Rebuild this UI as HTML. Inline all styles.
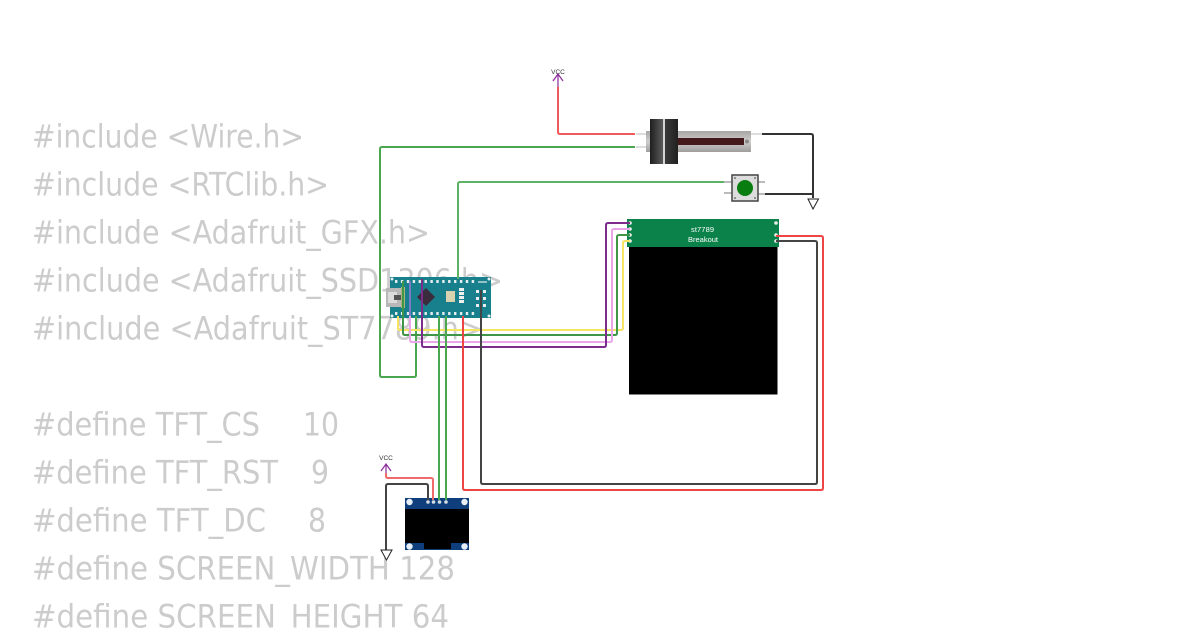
<!DOCTYPE html>
<html><head><meta charset="utf-8"><style>
html,body{margin:0;padding:0;background:#fff}
body{width:1200px;height:630px;overflow:hidden;position:relative}
svg{position:absolute;left:0;top:0}
text{white-space:pre}
.c{font-family:"DejaVu Sans",sans-serif;font-size:32px;fill:#cccccc}
.w{fill:none;stroke-width:2;stroke-linejoin:round}
.t{font-family:"Liberation Sans",sans-serif;fill:#fff}
</style></head><body>
<svg width="1200" height="630" viewBox="0 0 1200 630" xmlns="http://www.w3.org/2000/svg">
<defs>
<linearGradient id="g" x1="0" x2="1" y1="0" y2="0"><stop offset="0" stop-color="#1e1e1e"/><stop offset=".45" stop-color="#5a5a5a"/><stop offset=".55" stop-color="#3a3a3a"/><stop offset="1" stop-color="#202020"/></linearGradient>
<linearGradient id="b" x1="0" x2="0" y1="0" y2="1"><stop offset="0" stop-color="#a8a6a4"/><stop offset=".5" stop-color="#cfcdcb"/><stop offset="1" stop-color="#a09e9c"/></linearGradient>
<pattern id="pins" x="395" y="0" width="5.900" height="4" patternUnits="userSpaceOnUse"><rect x="0" y="0" width="2.400" height="3" fill="#e6eef0"/></pattern>
</defs>
<g class="c">
<text x="32" y="147.500" textLength="272" lengthAdjust="spacingAndGlyphs">#include &lt;Wire.h&gt;</text>
<text x="32" y="195.500" textLength="297" lengthAdjust="spacingAndGlyphs">#include &lt;RTClib.h&gt;</text>
<text x="32" y="243.500" textLength="398" lengthAdjust="spacingAndGlyphs">#include &lt;Adafruit_GFX.h&gt;</text>
<text x="32" y="291.500" textLength="471" lengthAdjust="spacingAndGlyphs">#include &lt;Adafruit_SSD1306.h&gt;</text>
<text x="32" y="339.500" textLength="451" lengthAdjust="spacingAndGlyphs">#include &lt;Adafruit_ST7789.h&gt;</text>
<text x="32" y="435.500" textLength="228" lengthAdjust="spacingAndGlyphs">#define TFT_CS</text><text x="303" y="435.500" textLength="36" lengthAdjust="spacingAndGlyphs">10</text>
<text x="32" y="483.500" textLength="246" lengthAdjust="spacingAndGlyphs">#define TFT_RST</text><text x="311" y="483.500" textLength="18" lengthAdjust="spacingAndGlyphs">9</text>
<text x="32" y="531.500" textLength="234" lengthAdjust="spacingAndGlyphs">#define TFT_DC</text><text x="308" y="531.500" textLength="18" lengthAdjust="spacingAndGlyphs">8</text>
<text x="32" y="579.500" textLength="423" lengthAdjust="spacingAndGlyphs">#define SCREEN_WIDTH 128</text>
<text x="32" y="627.500" textLength="417" lengthAdjust="spacingAndGlyphs">#define SCREEN_HEIGHT 64</text>
</g>

<!-- display -->
<rect x="629" y="245" width="148.500" height="149.500" fill="#000"/>
<rect x="627" y="219" width="152" height="28" fill="#0a8249"/>
<text class="t" x="691" y="232" font-size="7.500" textLength="23">st7789</text>
<text class="t" x="688" y="242" font-size="7.500" textLength="30">Breakout</text>
<g fill="#eee"><circle cx="630" cy="223" r="1.800"/><circle cx="630" cy="229" r="1.800"/><circle cx="630" cy="235" r="1.800"/><circle cx="630" cy="241" r="1.800"/><circle cx="776" cy="223" r="1.800"/><circle cx="776" cy="235" r="1.800"/><circle cx="776" cy="241" r="1.800"/></g>

<!-- nano -->
<rect x="390" y="277" width="101" height="41" fill="#187f8c"/>
<rect x="386" y="288" width="15" height="19" fill="#b8b8b8"/>
<rect x="388" y="292" width="9" height="11" fill="#dcdcdc"/>
<rect x="394" y="295" width="7" height="5" fill="#555"/>
<rect x="401" y="287" width="4" height="21" fill="#a9b37a"/>
<polygon points="426,288 435,297 426,306 417,297" fill="#3a2c3c"/>
<rect x="446" y="291" width="9" height="11" fill="#d9d2b0"/>
<g fill="#eee"><rect x="459" y="288" width="5" height="3"/><rect x="459" y="292" width="5" height="3"/><rect x="459" y="296" width="5" height="3"/><rect x="459" y="300" width="5" height="3"/></g>
<rect x="395" y="280" width="80" height="3" fill="url(#pins)"/>
<rect x="395" y="312" width="80" height="3" fill="url(#pins)"/>
<g fill="#e8eef0">
<circle cx="392" cy="279" r="1.500"/><circle cx="489" cy="279" r="1.500"/><circle cx="392" cy="316" r="1.500"/><circle cx="489" cy="316" r="1.500"/>
<rect x="476" y="290" width="3" height="3"/><rect x="483" y="290" width="3" height="3"/><rect x="476" y="297" width="3" height="3"/><rect x="483" y="297" width="3" height="3"/><rect x="476" y="304" width="3" height="3"/><rect x="483" y="304" width="3" height="3"/>
<rect x="478" y="281" width="9" height="2" opacity=".6"/>
</g>

<!-- OLED -->
<rect x="405" y="498" width="64" height="52" fill="#0e3f7c"/>
<rect x="405" y="509" width="64" height="34" fill="#000"/>
<rect x="424" y="543" width="27" height="6" fill="#000"/>
<g fill="#e8eef5"><circle cx="409.500" cy="502" r="3.200"/><circle cx="464.500" cy="502" r="3.200"/><circle cx="409.500" cy="546.500" r="3.200"/><circle cx="464.500" cy="546.500" r="3.200"/></g>

<!-- pot -->
<rect x="636" y="133" width="12" height="2" fill="#ddd"/>
<rect x="636" y="146" width="12" height="2" fill="#ddd"/>
<rect x="751" y="133" width="11" height="2" fill="#ddd"/>
<rect x="646" y="131" width="105" height="21" fill="url(#b)"/>
<rect x="676" y="138" width="68" height="7" fill="#45181a"/>
<circle cx="747" cy="141.500" r="2" fill="#8a8a8a"/>
<rect x="650" y="119" width="28" height="45" fill="url(#g)"/>
<rect x="663" y="119" width="2" height="45" fill="#d5d5d5"/>

<!-- button -->
<g fill="#bbb"><rect x="724" y="181" width="8" height="2"/><rect x="724" y="192" width="8" height="2"/><rect x="757" y="181" width="8" height="2"/><rect x="757" y="193" width="8" height="2"/></g>
<rect x="732" y="175" width="26" height="26" fill="#dcdcdc" stroke="#444" stroke-width="1.500"/>
<g fill="#333"><circle cx="735" cy="178" r=".8"/><circle cx="755" cy="178" r=".8"/><circle cx="735" cy="198" r=".8"/><circle cx="755" cy="198" r=".8"/></g>
<circle cx="745" cy="188" r="8" fill="#0a7d10"/>

<!-- wires -->
<path class="w" stroke="#ef5a5a" d="M558 87V132Q558 134 560 134H635"/>
<path class="w" stroke="#4aa64f" d="M635 147H382Q380 147 380 149V375Q380 377 382 377H414Q416 377 416 375V316"/>
<path class="w" stroke="#5db263" d="M458 279V184Q458 182 460 182H724"/>
<path class="w" stroke="#333" d="M762 134H811Q813 134 813 136V198"/>
<path class="w" stroke="#333" d="M765 194H813"/>
<path class="w" stroke="#f7e463" d="M398 316V328Q398 330 400 330H621Q623 330 623 328V243Q623 241 625 241H630"/>
<path class="w" stroke="#3f9647" d="M403 281V333Q403 335 405 335H615Q617 335 617 333V237Q617 235 619 235H630"/>
<path class="w" stroke="#e9a6e9" d="M410 316V340Q410 342 412 342H610Q612 342 612 340V231Q612 229 614 229H630"/>
<path class="w" stroke="#7a7ac4" d="M410 281V316"/>
<path class="w" stroke="#7c2d8c" d="M422 279V345Q422 347 424 347H604Q606 347 606 345V225Q606 223 608 223H630"/>
<path class="w" stroke="#ef4444" d="M463 316V488Q463 490 465 490H821Q823 490 823 488V238Q823 236 821 236H776"/>
<path class="w" stroke="#444" d="M481 290V482Q481 484 483 484H815Q817 484 817 482V243Q817 241 815 241H776"/>
<path class="w" stroke="#4aa64f" d="M439 316V500"/>
<path class="w" stroke="#4aa64f" d="M446 316V500"/>
<path class="w" stroke="#ef6a6a" d="M386 473V476Q386 478 388 478H431Q433 478 433 480V500"/>
<path class="w" stroke="#444" d="M386 550V486Q386 484 388 484H426Q428 484 428 486V500"/>
<g fill="#d8dde4"><circle cx="428" cy="502" r="1.800"/><circle cx="433.500" cy="502" r="1.800"/><circle cx="439.500" cy="502" r="1.800"/><circle cx="446" cy="502" r="1.800"/></g>

<!-- power symbols -->
<g fill="none" stroke="#8a2a9a" stroke-width="1.200"><path d="M558 74V87M553 81L558 74L563 81"/><path d="M386 464V473M381 471L386 464L391 471"/></g>
<text x="558" y="74" font-family="Liberation Sans,sans-serif" font-size="6.500" text-anchor="middle" fill="#333">VCC</text>
<text x="386" y="460" font-family="Liberation Sans,sans-serif" font-size="6.500" text-anchor="middle" fill="#333">VCC</text>
<g fill="#fff" stroke="#222" stroke-width="1"><polygon points="808,199 818.500,199 813,209"/><polygon points="381,550 392,550 386.500,560"/></g>
</svg>
</body></html>
